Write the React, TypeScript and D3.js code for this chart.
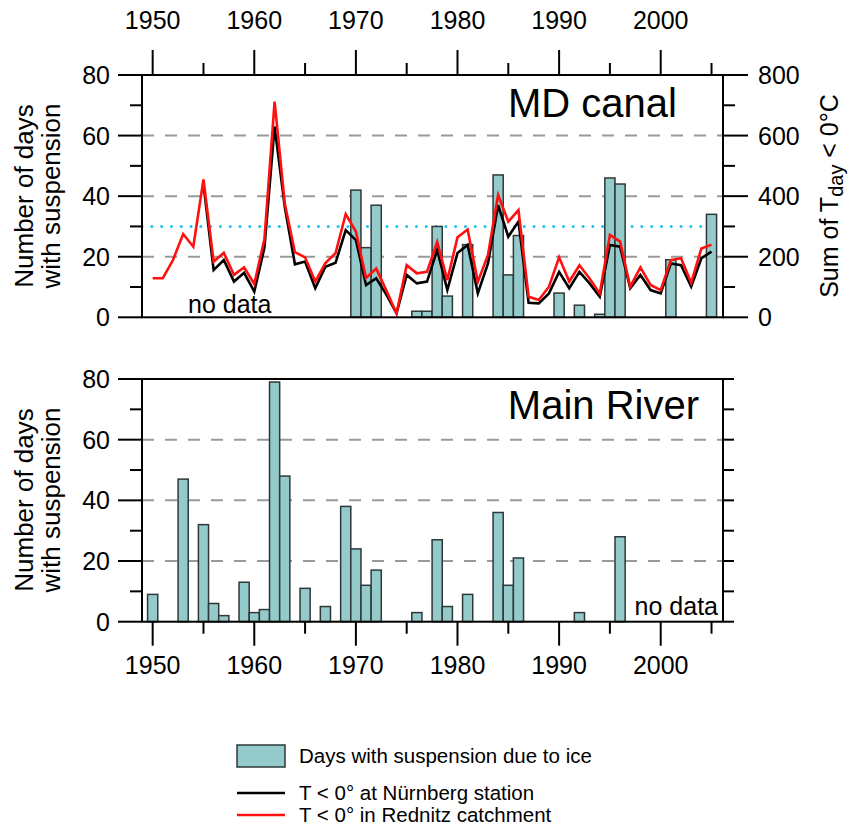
import React from "react";
import * as d3 from "d3";

// ---- data ----
const lineYears = d3.range(1950, 2006);
const rednitzSum = [129,129,189,275,233,455,184,213,140,165,110,258,712,376,215,198,118,179,212,341,283,130,161,88,13,172,145,150,249,123,264,290,117,206,404,316,354,68,57,101,198,118,172,128,79,272,250,101,165,107,90,189,195,114,227,240];
const nurnbergYears = d3.range(1955, 2006);
const nurnbergSum = [440,156,189,118,147,85,230,630,365,175,184,96,167,180,288,255,106,129,75,13,140,112,118,222,90,212,239,79,178,370,266,316,48,46,79,150,96,150,112,68,239,233,96,140,90,79,178,172,101,195,217];

const canalYears = [1970,1971,1972,1976,1977,1978,1979,1981,1984,1985,1986,1990,1992,1994,1995,1996,2001,2005];
const canalDays = [42,23,37,2,2,30,7,24,47,14,27,8,4,1,46,44,19,34];

const mainYears = [1950,1953,1955,1956,1957,1959,1960,1961,1962,1963,1965,1967,1969,1970,1971,1972,1976,1978,1979,1981,1984,1985,1986,1992,1996];
const mainDays = [9,47,32,6,2,13,3,4,79,48,11,5,38,24,12,17,3,27,5,9,36,12,21,3,28];

const yearTicks = [1950,1960,1970,1980,1990,2000];
const minorYearTicks = d3.range(1950, 2006, 5);
const dayTicks = [0,20,40,60,80];
const minorDayTicks = d3.range(0, 81, 10);
const sumTicks = [0,200,400,600,800];
const minorSumTicks = d3.range(0, 801, 100);
const gridDays = [20,40,60];
const thresholdDays = 30;
const legendLabels = ["Days with suspension due to ice", "T < 0° at Nürnberg station", "T < 0° in Rednitz catchment"];

const FONT = "'Liberation Sans', Arial, Helvetica, sans-serif";
const BAR_FILL = "#94CACA";
const BAR_STROKE = "#2E3838";
const GRID = "#9A9A9A";

const x = d3.scaleLinear().domain([1948.95, 2006.13]).range([142, 723]);
const yTop = d3.scaleLinear().domain([0, 80]).range([317.3, 75]);
const yTopR = d3.scaleLinear().domain([0, 800]).range([317.3, 75]);
const yBot = d3.scaleLinear().domain([0, 80]).range([621.7, 379]);

function Bars({ years, vals, y }: { years: number[]; vals: number[]; y: d3.ScaleLinear<number, number> }) {
  return (
    <g>
      {years.map((yr, i) => (
        <rect key={yr} x={x(yr - 0.5)} y={y(vals[i])} width={x(yr + 0.5) - x(yr - 0.5)} height={y(0) - y(vals[i])}
          fill={BAR_FILL} stroke={BAR_STROKE} strokeWidth={1.5} />
      ))}
    </g>
  );
}

function Grid({ y }: { y: d3.ScaleLinear<number, number> }) {
  return (
    <g>
      {gridDays.map((v) => (
        <line key={v} x1={x.range()[0]} x2={x.range()[1]} y1={y(v)} y2={y(v)} stroke={GRID} strokeWidth={2} strokeDasharray="12,11" />
      ))}
    </g>
  );
}

function Frame({ y }: { y: d3.ScaleLinear<number, number> }) {
  const [x0, x1] = x.range();
  const [yb, yt] = y.range();
  return <rect x={x0} y={yt} width={x1 - x0} height={yb - yt} fill="none" stroke="#000" strokeWidth={2} />;
}

function LeftAxis({ y }: { y: d3.ScaleLinear<number, number> }) {
  const x0 = x.range()[0];
  return (
    <g>
      {minorDayTicks.map((v) => {
        const major = dayTicks.includes(v);
        return <line key={v} x1={x0 - (major ? 24 : 12)} x2={x0} y1={y(v)} y2={y(v)} stroke="#000" strokeWidth={2} />;
      })}
      {dayTicks.map((v) => (
        <text key={v} x={x0 - 32} y={y(v)} dy="0.36em" textAnchor="end" fontSize={25} fontFamily={FONT}>{v}</text>
      ))}
    </g>
  );
}

function YTitle({ cy }: { cy: number }) {
  return (
    <g transform={`translate(33,${cy}) rotate(-90)`}>
      <text x={0} y={0} textAnchor="middle" fontSize={26} fontFamily={FONT}>Number of days</text>
      <text x={0} y={27} textAnchor="middle" fontSize={26} fontFamily={FONT}>with suspension</text>
    </g>
  );
}

export default function App() {
  const lineR = d3.line<number>().x((_, i) => x(lineYears[i])).y((v) => yTopR(v));
  const lineN = d3.line<number>().x((_, i) => x(nurnbergYears[i])).y((v) => yTopR(v));
  const [x0, x1] = x.range();
  return (
    <svg width={849} height={826} style={{ position: "absolute", left: 0, top: 0, background: "#fff" }}>
      {/* ---------- top panel ---------- */}
      <Grid y={yTop} />
      <line x1={x0} x2={x(2004.6)} y1={yTop(thresholdDays)} y2={yTop(thresholdDays)} stroke="#1EC4F0" strokeWidth={3}
        strokeDasharray="0.1,9.7" strokeLinecap="round" />
      <Bars years={canalYears} vals={canalDays} y={yTop} />
      <path d={lineN(nurnbergSum) || ""} fill="none" stroke="#000" strokeWidth={2.6} />
      <path d={lineR(rednitzSum) || ""} fill="none" stroke="#FF1010" strokeWidth={2.6} />
      <Frame y={yTop} />
      <LeftAxis y={yTop} />
      {minorSumTicks.map((v) => {
        const major = sumTicks.includes(v);
        return <line key={v} x1={x1} x2={x1 + (major ? 25 : 12)} y1={yTopR(v)} y2={yTopR(v)} stroke="#000" strokeWidth={2} />;
      })}
      {sumTicks.map((v) => (
        <text key={v} x={x1 + 35} y={yTopR(v)} dy="0.36em" textAnchor="start" fontSize={25} fontFamily={FONT}>{v}</text>
      ))}
      {minorYearTicks.map((yr) => {
        const major = yearTicks.includes(yr);
        return <line key={yr} x1={x(yr)} x2={x(yr)} y1={yTop.range()[1]} y2={yTop.range()[1] - (major ? 25 : 12)} stroke="#000" strokeWidth={2} />;
      })}
      {yearTicks.map((yr) => (
        <text key={yr} x={x(yr)} y={29} textAnchor="middle" fontSize={25} fontFamily={FONT}>{yr}</text>
      ))}
      <text x={677} y={117} textAnchor="end" fontSize={40} fontFamily={FONT}>MD canal</text>
      <text x={188} y={313} fontSize={25} fontFamily={FONT}>no data</text>
      <YTitle cy={196} />
      <text transform="translate(838,196) rotate(-90)" textAnchor="middle" fontSize={25} fontFamily={FONT}>
        Sum of T<tspan fontSize={20} dy="5">day</tspan><tspan dy="-5"> &lt; 0°C</tspan>
      </text>

      {/* ---------- bottom panel ---------- */}
      <Grid y={yBot} />
      <Bars years={mainYears} vals={mainDays} y={yBot} />
      <Frame y={yBot} />
      <LeftAxis y={yBot} />
      {minorDayTicks.map((v) => (
        <line key={v} x1={x1} x2={x1 + 11} y1={yBot(v)} y2={yBot(v)} stroke="#000" strokeWidth={2} />
      ))}
      {minorYearTicks.map((yr) => {
        const major = yearTicks.includes(yr);
        return <line key={yr} x1={x(yr)} x2={x(yr)} y1={yBot.range()[0]} y2={yBot.range()[0] + (major ? 24 : 12)} stroke="#000" strokeWidth={2} />;
      })}
      {yearTicks.map((yr) => (
        <text key={yr} x={x(yr)} y={674} textAnchor="middle" fontSize={25} fontFamily={FONT}>{yr}</text>
      ))}
      <text x={699} y={419} textAnchor="end" fontSize={40} fontFamily={FONT}>Main River</text>
      <text x={718} y={615} textAnchor="end" fontSize={25} fontFamily={FONT}>no data</text>
      <YTitle cy={500} />

      {/* ---------- legend ---------- */}
      <rect x={237} y={745} width={48} height={22} fill={BAR_FILL} stroke={BAR_STROKE} strokeWidth={1.5} />
      <line x1={237} x2={285} y1={793} y2={793} stroke="#000" strokeWidth={2.5} />
      <line x1={237} x2={285} y1={815} y2={815} stroke="#FF1010" strokeWidth={2.5} />
      {legendLabels.map((t, i) => (
        <text key={t} x={299} y={[763, 800, 822][i]} fontSize={20.5} fontFamily={FONT}>{t}</text>
      ))}
    </svg>
  );
}
